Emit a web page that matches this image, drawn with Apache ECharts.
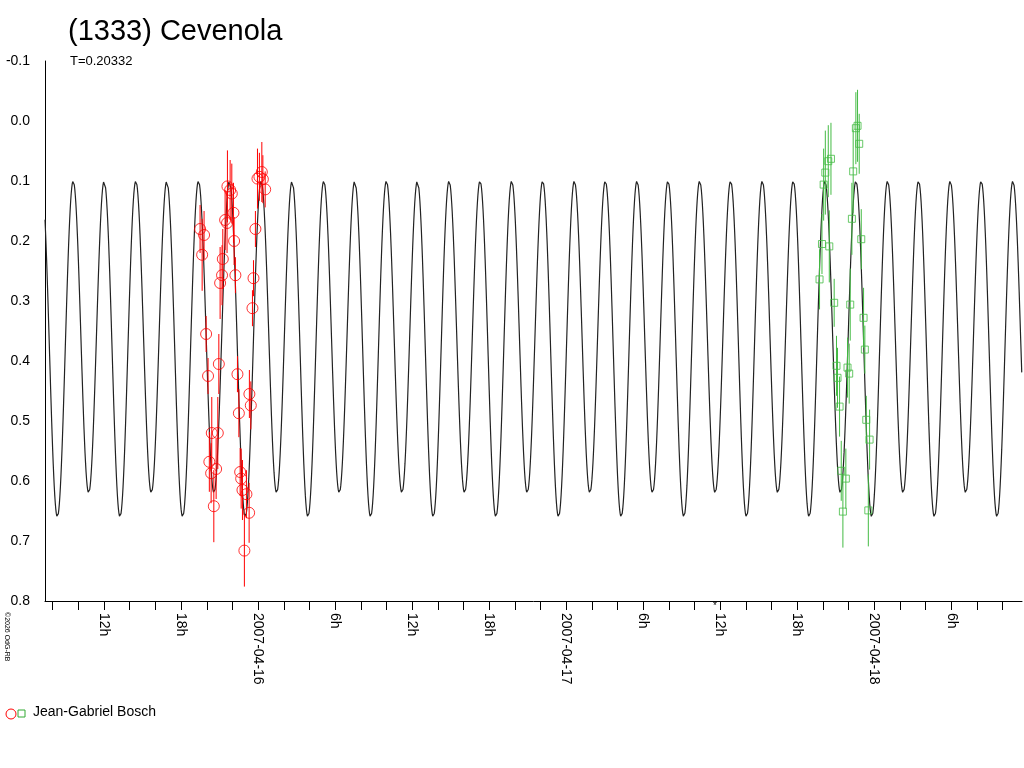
<!DOCTYPE html>
<html><head><meta charset="utf-8">
<script src="https://cdn.jsdelivr.net/npm/echarts@6/dist/echarts.min.js"></script>
<style>html,body{margin:0;padding:0;background:#fff}#c{width:1024px;height:768px}</style>
</head><body><div id="c"></div>
<script>
// hours relative to 2007-04-16 00:00 UT, magnitudes
const redHours=[-4.52,-4.21,-4.36,-2.75,-2.81,-2.96,-4.05,-3.06,-3.90,-3.61,-3.14,-3.80,-3.66,-3.27,-3.45,-2.39,-2.18,-2.05,-2.57,-2.42,-1.92,-1.87,-1.77,-1.61,-1.50,-1.40,-1.32,-1.22,-0.91,-0.70,-1.07,-0.68,-0.57,-0.44,-0.36,-0.21,-0.05,0.29,0.55,0.10,0.37];
const redMag=[0.180,0.190,0.223,0.230,0.257,0.270,0.355,0.405,0.425,0.520,0.520,0.568,0.587,0.580,0.642,0.109,0.115,0.121,0.165,0.170,0.153,0.200,0.257,0.422,0.487,0.585,0.596,0.615,0.622,0.653,0.716,0.455,0.474,0.312,0.262,0.180,0.096,0.085,0.114,0.093,0.097];
const redErr=[0.04,0.04,0.06,0.05,0.05,0.06,0.03,0.05,0.03,0.06,0.06,0.05,0.05,0.05,0.06,0.06,0.05,0.05,0.05,0.05,0.05,0.04,0.03,0.03,0.04,0.04,0.05,0.05,0.04,0.05,0.06,0.04,0.04,0.03,0.03,0.03,0.05,0.05,0.03,0.04,0.04];
const greenHours=[44.62,44.41,44.18,44.05,43.92,44.49,43.73,44.87,45.05,45.13,45.29,45.42,45.78,45.55,46.56,46.69,46.82,46.35,46.25,46.98,46.12,47.16,47.26,45.91,46.04,47.37,47.63,47.53];
const greenMag=[0.063,0.067,0.086,0.106,0.205,0.209,0.264,0.303,0.408,0.428,0.476,0.583,0.596,0.651,0.012,0.008,0.038,0.084,0.163,0.197,0.306,0.328,0.381,0.411,0.421,0.498,0.531,0.649];
const greenErr=[0.06,0.06,0.07,0.06,0.05,0.06,0.05,0.04,0.05,0.05,0.05,0.05,0.05,0.06,0.06,0.06,0.05,0.07,0.06,0.05,0.06,0.05,0.04,0.05,0.05,0.04,0.05,0.06];
// Fourier model of the lightcurve (period in days)
const periodDays=0.20332, t0Hours=-1.0, meanMag=0.37, amp2=0.27, amp1=0.02;
const xTickHours=[-16,-14,-12,-10,-8,-6,-4,-2,0,2,4,6,8,10,12,14,16,18,20,22,24,26,28,30,32,34,36,38,40,42,44,46,48,50,52,54,56,58];
const xLabelHours=[-12,-6,0,6,12,18,24,30,36,42,48,54];
const xLabelText={"-12":"12h","-6":"18h","0":"2007-04-16","6":"6h","12":"12h","18":"18h","24":"2007-04-17","30":"6h","36":"12h","42":"18h","48":"2007-04-18","54":"6h"};
const xMin=-16.6, xMax=59.5;

const P=periodDays*24, model=[];
for(let h=xMin;h<=xMax;h+=0.04){const p=2*Math.PI*(h-t0Hours)/P;model.push([h,meanMag+amp2*Math.cos(2*p)+amp1*Math.cos(p)]);}
const red=redHours.map((h,i)=>[h,redMag[i],redErr[i]]);
const green=greenHours.map((h,i)=>[h,greenMag[i],greenErr[i]]);
function errBars(color){return function(params,api){const a=api.coord([api.value(0),api.value(1)-api.value(2)]);const b=api.coord([api.value(0),api.value(1)+api.value(2)]);return {type:'line',shape:{x1:a[0],y1:a[1],x2:b[0],y2:b[1]},style:{stroke:color,lineWidth:1}};};}
const ch=echarts.init(document.getElementById('c'));
ch.setOption({
 animation:false,
 title:[{text:'(1333) Cevenola',left:63,top:12,textStyle:{fontFamily:'Liberation Sans',fontSize:29,fontWeight:'normal',color:'#000'}},
        {text:'T=0.20332',left:65,top:50,textStyle:{fontFamily:'Liberation Sans',fontSize:13,fontWeight:'normal',color:'#000'}}],
 graphic:[{type:'text',left:3,top:612,rotation:-Math.PI/2,style:{text:'©2026 OdG-RB',font:'7px Liberation Sans',fill:'#000'}},
  {type:'circle',shape:{cx:11,cy:714,r:5},style:{fill:'none',stroke:'#f00'}},
  {type:'rect',shape:{x:18,y:710,width:7,height:7},style:{fill:'none',stroke:'#3a3'}},
  {type:'text',left:33,top:705,style:{text:'Jean-Gabriel Bosch',font:'14px Liberation Sans',fill:'#000'}},
  {type:'text',left:713,top:601,style:{text:'*',font:'10px Liberation Sans',fill:'#000'}}],
 grid:{left:45,right:2,top:61,bottom:167},
 xAxis:{type:'value',min:xMin,max:xMax,splitLine:{show:false},
   axisLine:{onZero:false,lineStyle:{color:'#000'}},
   axisTick:{customValues:xTickHours,length:9,lineStyle:{color:'#000'}},
   axisLabel:{customValues:xLabelHours,rotate:-90,margin:12,color:'#000',fontFamily:'Liberation Sans',fontSize:14,formatter:v=>xLabelText[String(Math.round(v))]||''}},
 yAxis:{type:'value',inverse:true,min:-0.1,max:0.8,interval:0.1,splitLine:{show:false},
   axisLine:{show:true,onZero:false,lineStyle:{color:'#000'}},axisTick:{show:false},
   axisLabel:{color:'#000',fontFamily:'Liberation Sans',fontSize:14,margin:15,formatter:v=>v.toFixed(1)}},
 series:[
  {type:'line',data:model,showSymbol:false,lineStyle:{color:'#222',width:1.2},z:1},
  {type:'custom',data:red,renderItem:errBars('#f00'),encode:{x:0,y:1},z:2},
  {type:'custom',data:green,renderItem:errBars('#4b4'),encode:{x:0,y:1},z:2},
  {type:'scatter',data:red,symbol:'circle',symbolSize:11,itemStyle:{color:'none',borderColor:'#f00',borderWidth:1},z:3},
  {type:'scatter',data:green,symbol:'rect',symbolSize:7,itemStyle:{color:'none',borderColor:'#4b4',borderWidth:1},z:3}
 ]
});
</script></body></html>
